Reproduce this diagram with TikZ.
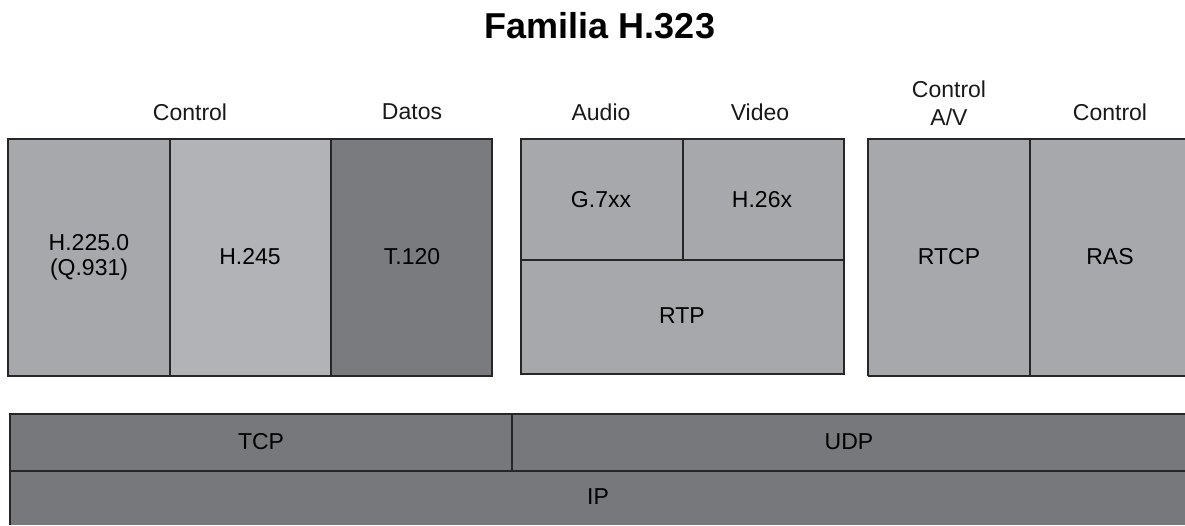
\documentclass[tikz,border=0pt]{standalone}
\usepackage{fontspec}
\setmainfont{Liberation Sans}
\definecolor{cmid}{HTML}{A7A8AC}
\definecolor{clight}{HTML}{B2B3B6}
\definecolor{cdark}{HTML}{7A7B7F}
\definecolor{cbase}{HTML}{77787C}
\begin{document}
\begin{tikzpicture}[x=1pt,y=-1pt,
  blk/.style={draw=black!85,line width=1.3pt},
  lbl/.style={font=\fontsize{23}{25}\selectfont,text=black,align=center},
  hdr/.style={font=\fontsize{23}{28}\selectfont,text=black!90,align=center}]
\useasboundingbox[fill=white] (0,0) rectangle (1185,525);
% title
\node[font=\bfseries\fontsize{36}{38}\selectfont] (title) at (600,26) {Familia H.323};
% headers
\node[hdr] (hctl) at (190,112) {Control};
\node[hdr] (hdat) at (412,112) {Datos};
\node[hdr] (haud) at (601,112) {Audio};
\node[hdr] (hvid) at (760,112) {Video};
\node[hdr] (hav) at (949,103) {Control\\A/V};
\node[hdr] (hctl2) at (1110,112) {Control};
% left block
\fill[cmid] (8,139) rectangle (170,376);
\fill[clight] (170,139) rectangle (331,376);
\fill[cdark] (331,139) rectangle (492,376);
\draw[blk] (8,139) rectangle (492,376);
\draw[blk] (170,139) -- (170,376);
\draw[blk] (331,139) -- (331,376);
\node[lbl] (h225) at (89,257) {H.225.0\\(Q.931)};
\node[lbl] (h245) at (250,257) {H.245};
\node[lbl] (t120) at (412,257) {T.120};
% middle block
\fill[cmid] (521,139) rectangle (844,374);
\draw[blk] (521,139) rectangle (844,374);
\draw[blk] (683,139) -- (683,260);
\draw[blk] (521,260) -- (844,260);
\node[lbl] (g7) at (601,200) {G.7xx};
\node[lbl] (h26) at (762,200) {H.26x};
\node[lbl] (rtp) at (682,316) {RTP};
% right block
\fill[cmid] (868,139) rectangle (1185,376);
\draw[blk] (868,376) -- (868,139) -- (1185,139);
\draw[blk] (868,376) -- (1185,376);
\draw[blk] (1030,139) -- (1030,376);
\node[lbl] (rtcp) at (949,257) {RTCP};
\node[lbl] (ras) at (1110,257) {RAS};
% bottom layers
\fill[cbase] (10,414) rectangle (1185,525);
\draw[blk] (10,525) -- (10,414) -- (1185,414);
\draw[blk] (10,471) -- (1185,471);
\draw[blk] (512,414) -- (512,471);
\node[lbl] (tcp) at (261,442) {TCP};
\node[lbl] (udp) at (849,442) {UDP};
\node[lbl] (ip) at (598,497) {IP};
\end{tikzpicture}
\end{document}
